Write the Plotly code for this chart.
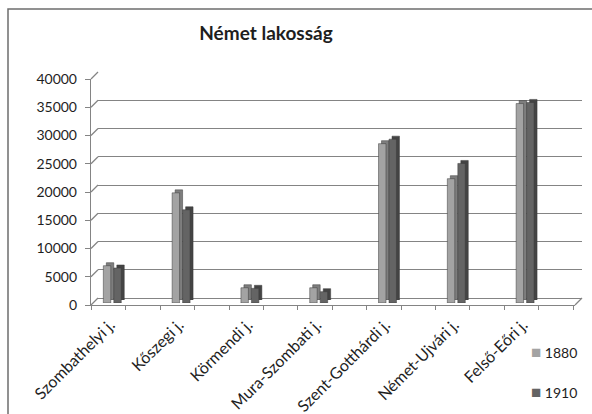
import plotly.graph_objects as go

# ---- data ---------------------------------------------------------------
districts = ["Szombathelyi j.", "Kőszegi j.", "Körmendi j.", "Mura-Szombati j.",
             "Szent-Gotthárdi j.", "Német-Ujvári j.", "Felső-Eőri j."]
years = ["1880", "1910"]
pop_1880 = [6600, 19500, 2700, 2700, 28200, 22000, 35300]
pop_1910 = [6200, 16500, 2600, 2000, 29000, 24700, 35500]
y_ticks = [0, 5000, 10000, 15000, 20000, 25000, 30000, 35000, 40000]
chart_title = "Német lakosság"

series = [pop_1880, pop_1910]
face_colors = ["#a3a3a3", "#646464"]
side_colors = ["#7e7e7e", "#444444"]

# ---- geometry (pixels of the 592x414 page) --------------------------------
W, H = 592, 414
FL, FR, FT, FB = 91, 575, 79, 305      # front frame: left, right, top(40000), bottom(0)
CAT0, STEP = 110.3, 68.8               # pixel of first category, pixels per category
DEPTH = 7                              # depth of the back wall
FONT = "Lato"
INK = "#1e1e1e"
GRID = "#848484"


def px(x):
    return x / W


def py(y):
    return 1 - y / H


x_range = [(FL - CAT0) / STEP, (FR - CAT0) / STEP]
y_range = [y_ticks[0], y_ticks[-1]]


def dom(dx, dy):
    return dict(x=[px(FL + dx), px(FR + dx)], y=[py(FB - dy), py(FT - dy)])


def ypix(v):
    return FB - (v - y_range[0]) / (y_range[1] - y_range[0]) * (FB - FT)


cat_pos = list(range(len(districts)))

fig = go.Figure()

# back wall (gridlines only)
fig.add_trace(go.Scatter(x=[None], y=[None], xaxis="x", yaxis="y",
                         showlegend=False, hoverinfo="skip"))
# extruded side / top of each column, then the front faces
for vals, col in zip(series, side_colors):
    fig.add_trace(go.Bar(x=cat_pos, y=vals, xaxis="x2", yaxis="y2",
                         marker=dict(color=col, line=dict(color="#3a3a3a", width=0.5)),
                         showlegend=False, hoverinfo="skip"))
for vals, col, name in zip(series, face_colors, years):
    fig.add_trace(go.Bar(x=cat_pos, y=vals, name=name, xaxis="x3", yaxis="y3",
                         marker=dict(color=col, line=dict(color="#3a3a3a", width=0.5)),
                         showlegend=False))
# labelled front axes
fig.add_trace(go.Scatter(x=[None], y=[None], xaxis="x4", yaxis="y4",
                         showlegend=False, hoverinfo="skip"))

hidden = dict(visible=False, range=x_range, fixedrange=True, automargin=False)
back = dom(DEPTH, DEPTH)
side = dom(5, 5)
front_bar = dom(2, 2)
front = dom(0, 0)

fig.update_layout(
    width=W, height=H,
    margin=dict(l=0, r=0, t=0, b=0, autoexpand=False),
    paper_bgcolor="white", plot_bgcolor="rgba(0,0,0,0)",
    barmode="group", bargap=0.695, bargroupgap=0.29,
    showlegend=False,
    font=dict(family=FONT, color=INK),
    title=dict(text=chart_title, x=px(266), y=py(33), xref="paper", yref="paper",
               xanchor="center", yanchor="middle",
               font=dict(family=FONT, size=19, color=INK, weight="bold")),
    xaxis=dict(hidden, domain=back["x"], anchor="y"),
    yaxis=dict(domain=back["y"], range=y_range, anchor="x", tickvals=y_ticks,
               showticklabels=False, showgrid=True, gridcolor=GRID, gridwidth=1.4,
               zeroline=True, zerolinecolor=GRID, zerolinewidth=1.4,
               showline=False, ticks="", fixedrange=True, automargin=False),
    xaxis2=dict(hidden, domain=side["x"], anchor="y2"),
    yaxis2=dict(visible=False, domain=side["y"], range=y_range, anchor="x2",
                automargin=False),
    xaxis3=dict(hidden, domain=front_bar["x"], anchor="y3"),
    yaxis3=dict(visible=False, domain=front_bar["y"], range=y_range, anchor="x3",
                automargin=False),
    xaxis4=dict(domain=front["x"], range=x_range, anchor="y4",
                tickmode="array", tickvals=cat_pos, ticktext=districts,
                tickangle=-45, ticks="", ticklabelstandoff=3,
                showgrid=False, zeroline=False,
                showline=True, linecolor=GRID, linewidth=1.4,
                minor=dict(ticks="outside", tick0=x_range[0] + 0.0085, dtick=0.5,
                           ticklen=4, tickcolor=GRID, tickwidth=1, showgrid=False),
                tickfont=dict(family=FONT, size=16, color=INK), fixedrange=True,
                automargin=False),
    yaxis4=dict(domain=front["y"], range=y_range, anchor="x4",
                tickmode="array", tickvals=y_ticks, ticktext=[str(v) for v in y_ticks],
                ticks="outside", ticklen=5, ticklabelstandoff=5,
                tickcolor=GRID, tickwidth=1.2, showgrid=False, zeroline=False,
                showline=True, linecolor=GRID, linewidth=1.4,
                tickfont=dict(family=FONT, size=14, color=INK), fixedrange=True,
                automargin=False),
)

shapes = []
# side-wall connectors between the front axis and the back-wall gridlines
for v in y_ticks:
    y0 = ypix(v)
    shapes.append(dict(type="line", xref="paper", yref="paper",
                       x0=px(FL), y0=py(y0), x1=px(FL + DEPTH), y1=py(y0 - DEPTH),
                       line=dict(color=GRID, width=1.2)))
# right edge of the floor
shapes.append(dict(type="line", xref="paper", yref="paper",
                   x0=px(FR), y0=py(FB), x1=px(FR + DEPTH), y1=py(FB - DEPTH),
                   line=dict(color=GRID, width=1.2)))
# chart frame
shapes.append(dict(type="rect", xref="paper", yref="paper",
                   x0=px(8), y0=py(9), x1=1.05, y1=-0.05,
                   line=dict(color="#6e6e6e", width=1.5)))
fig.update_layout(shapes=shapes)

# legend entries
legend_y = [351, 391]
for name, col, ly in zip(years, face_colors, legend_y):
    fig.add_annotation(xref="paper", yref="paper", x=px(529), y=py(ly),
                       xanchor="left", yanchor="middle", showarrow=False,
                       text=(f'<span style="color:{col};font-size:17px">■</span>'
                             f' {name}'),
                       font=dict(family=FONT, size=14, color=INK))

fig.write_html("out.html")
